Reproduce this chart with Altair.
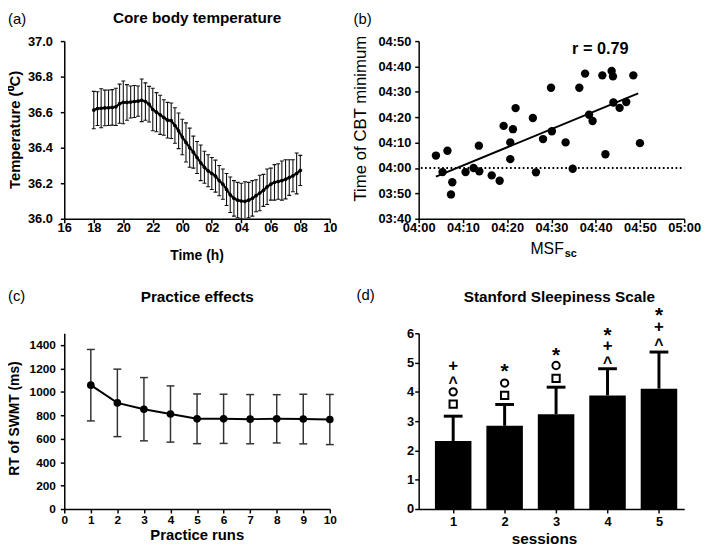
import altair as alt
import pandas as pd

FONT = "Liberation Sans"
W = 269
H_TOP, H_BOT = 180, 178

# ---------------- (a) Core body temperature ----------------
cbt_hours = [18 + 0.25 * i for i in range(57)]
cbt_mean = [36.612, 36.620, 36.622, 36.624, 36.625, 36.627, 36.630, 36.648,
            36.655, 36.655, 36.657, 36.660, 36.662, 36.667, 36.660, 36.645,
            36.615, 36.600, 36.585, 36.570, 36.555, 36.552, 36.525, 36.495,
            36.460, 36.430, 36.400, 36.375, 36.345, 36.315, 36.290, 36.270,
            36.255, 36.240, 36.215, 36.195, 36.165, 36.135, 36.115, 36.105,
            36.100, 36.098, 36.105, 36.115, 36.130, 36.145, 36.160, 36.180,
            36.195, 36.205, 36.210, 36.215, 36.222, 36.232, 36.242, 36.255,
            36.272]
cbt_sd = [0.105, 0.095, 0.110, 0.100, 0.100, 0.100, 0.105, 0.110,
          0.120, 0.100, 0.090, 0.090, 0.085, 0.120, 0.105, 0.100,
          0.120, 0.110, 0.110, 0.100, 0.100, 0.100, 0.100, 0.100,
          0.100, 0.110, 0.110, 0.090, 0.090, 0.100, 0.090, 0.090,
          0.090, 0.090, 0.085, 0.085, 0.090, 0.100, 0.100, 0.100,
          0.100, 0.110, 0.100, 0.100, 0.090, 0.100, 0.090, 0.100,
          0.090, 0.100, 0.100, 0.110, 0.110, 0.100, 0.090, 0.115,
          0.085]
time_ticks = list(range(16, 35, 2))
temp_ticks = [36.0, 36.2, 36.4, 36.6, 36.8, 37.0]

# ---------------- (b) CBT minimum vs MSFsc (minutes after midnight) ----------------
msf_min = [243.9, 245.4, 246.5, 247.6, 247.3, 250.6, 252.4, 253.6, 253.7, 256.5,
           258.3, 259.2, 260.7, 260.7, 261.3, 261.9, 265.8, 266.5, 268.1, 269.9,
           270.1, 273.2, 274.8, 276.3, 277.6, 278.5, 279.3, 281.5, 282.2, 283.6,
           283.9, 284.0, 285.4, 286.9, 288.5, 290.0]
cbtmin_min = [244.9, 238.4, 246.8, 234.4, 229.6, 238.4, 240.0, 248.8, 238.7, 237.1,
              235.0, 256.6, 250.1, 243.5, 255.3, 263.6, 259.7, 238.3, 251.4, 271.6,
              254.5, 250.1, 239.7, 271.6, 277.2, 261.0, 258.5, 276.5, 245.4, 278.2,
              276.1, 265.8, 263.7, 266.0, 276.5, 249.8]
fit_x = [243.9, 289.6]
fit_y = [236.6, 269.4]
ref_x = [240.5, 300]
ref_y = [240, 240]
msf_ticks = list(range(240, 301, 10))
cbtmin_ticks = list(range(220, 291, 10))

# ---------------- (c) Practice effects ----------------
runs = list(range(1, 11))
rt_mean = [1057, 906, 852, 811, 770, 770, 767, 770, 768, 764]
rt_sd = [305, 288, 270, 240, 212, 210, 210, 206, 212, 214]
run_ticks = list(range(0, 11))
rt_ticks = list(range(0, 1401, 200))

# ---------------- (d) Stanford Sleepiness Scale ----------------
sessions = [1, 2, 3, 4, 5]
sss_mean = [2.32, 2.84, 3.24, 3.88, 4.11]
sss_upper = [3.17, 3.57, 4.16, 4.79, 5.36]
sym_session = [1, 1, 1, 1, 2, 2, 2, 3, 3, 3, 4, 4, 4, 5, 5, 5]
sym_kind = ["square", "circle", "caret", "plus",
            "square", "circle", "star",
            "square", "circle", "star",
            "caret", "plus", "star",
            "caret", "plus", "star"]
sym_y = [3.58, 4.00, 4.41, 4.88,
         3.88, 4.30, 4.83,
         4.46, 4.90, 5.38,
         5.08, 5.55, 6.08,
         5.70, 6.22, 6.74]


def label(text, x, y, size, weight="normal", angle=0, align="center", baseline="middle"):
    return alt.Chart(pd.DataFrame({"t": [text]})).mark_text(
        font=FONT, fontSize=size, fontWeight=weight, angle=angle, align=align,
        baseline=baseline, color="black"
    ).encode(text="t:N", x=alt.value(x), y=alt.value(y))


# ===== panel a =====
H = H_TOP
df_a = pd.DataFrame({"hour": cbt_hours, "mean": cbt_mean,
                     "lo": [m - s for m, s in zip(cbt_mean, cbt_sd)],
                     "hi": [m + s for m, s in zip(cbt_mean, cbt_sd)]})
xa = alt.X("hour:Q", scale=alt.Scale(domain=[16, 34], nice=False, zero=False),
           axis=alt.Axis(values=time_ticks, title=None, labelPadding=-1,
                         labelExpr="(datum.value % 24 < 10 ? '0' : '') + (datum.value % 24)"))
ya_axis = alt.Axis(values=temp_ticks, format=".1f", title=None, labelPadding=8)
ya_scale = alt.Scale(domain=[36, 37], nice=False, zero=False)
base_a = alt.Chart(df_a)
pa = alt.layer(
    base_a.mark_rule(color="#111", strokeWidth=1.1, clip=True).encode(
        x=xa, y=alt.Y("lo:Q", scale=ya_scale, axis=ya_axis), y2="hi:Q"),
    base_a.mark_rule(color="#111", strokeWidth=1.1, xOffset=-2, x2Offset=2, clip=True).encode(
        x=xa, x2="hour:Q", y=alt.Y("hi:Q", scale=ya_scale, axis=ya_axis)),
    base_a.mark_rule(color="#111", strokeWidth=1.1, xOffset=-2, x2Offset=2, clip=True).encode(
        x=xa, x2="hour:Q", y=alt.Y("lo:Q", scale=ya_scale, axis=ya_axis)),
    base_a.mark_line(color="black", strokeWidth=2.2).encode(
        x=xa, y=alt.Y("mean:Q", scale=ya_scale, axis=ya_axis)),
    base_a.mark_circle(color="black", size=14, opacity=1).encode(
        x=xa, y=alt.Y("mean:Q", scale=ya_scale, axis=ya_axis)),
    label("(a)", -57, -22, 15, align="left"),
    label("Core body temperature", 134.5, -23, 15.5, weight="bold"),
    label("Temperature (⁰C)", -50, H / 2, 15, weight="bold", angle=270),
    label("Time (h)", 134.5, H + 38, 14, weight="bold"),
).properties(width=W, height=H)

# ===== panel b =====
df_b = pd.DataFrame({"msf": msf_min, "cbtmin": cbtmin_min})
df_fit = pd.DataFrame({"msf": fit_x, "cbtmin": fit_y})
df_ref = pd.DataFrame({"msf": ref_x, "cbtmin": ref_y})
tlabel = "timeFormat(datetime(2000, 0, 1, 0, datum.value), '%H:%M')"
xb = alt.X("msf:Q", scale=alt.Scale(domain=[240, 300], nice=False, zero=False),
           axis=alt.Axis(values=msf_ticks, labelExpr=tlabel, title=None, labelPadding=-1))
yb = alt.Y("cbtmin:Q", scale=alt.Scale(domain=[220, 290], nice=False, zero=False),
           axis=alt.Axis(values=cbtmin_ticks, labelExpr=tlabel, title=None, labelPadding=4))
pb = alt.layer(
    alt.Chart(df_ref).mark_line(color="black", strokeWidth=2, strokeDash=[1.7, 2.6]).encode(x=xb, y=yb),
    alt.Chart(df_fit).mark_line(color="black", strokeWidth=2).encode(x=xb, y=yb),
    alt.Chart(df_b).mark_circle(color="black", size=72, opacity=1).encode(x=xb, y=yb),
    label("(b)", -66, -22, 15, align="left"),
    label("r = 0.79", 184, 8, 16.5, weight="bold"),
    label("Time of CBT minimum", -58, H / 2 - 11.5, 17, angle=270),
    label("MSF", 147, H + 31, 16, align="right"),
    label("sc", 148, H + 35.5, 11, weight="bold", align="left"),
).properties(width=W, height=H)

# ===== panel c =====
H = H_BOT
df_c = pd.DataFrame({"run": runs, "rt": rt_mean,
                     "lo": [m - s for m, s in zip(rt_mean, rt_sd)],
                     "hi": [m + s for m, s in zip(rt_mean, rt_sd)]})
xc = alt.X("run:Q", scale=alt.Scale(domain=[0, 10], nice=False),
           axis=alt.Axis(values=run_ticks, format="d", title=None, labelFontSize=12, labelPadding=2))
yc_scale = alt.Scale(domain=[0, 1500], nice=False)
yc_axis = alt.Axis(values=rt_ticks, format="d", title=None, labelFontSize=12, labelPadding=5)
base_c = alt.Chart(df_c)
pc = alt.layer(
    base_c.mark_rule(color="#333", strokeWidth=1.5).encode(
        x=xc, y=alt.Y("lo:Q", scale=yc_scale, axis=yc_axis), y2="hi:Q"),
    base_c.mark_rule(color="#333", strokeWidth=1.5, xOffset=-4, x2Offset=4).encode(
        x=xc, x2="run:Q", y=alt.Y("hi:Q", scale=yc_scale, axis=yc_axis)),
    base_c.mark_rule(color="#333", strokeWidth=1.5, xOffset=-4, x2Offset=4).encode(
        x=xc, x2="run:Q", y=alt.Y("lo:Q", scale=yc_scale, axis=yc_axis)),
    base_c.mark_line(color="black", strokeWidth=2).encode(
        x=xc, y=alt.Y("rt:Q", scale=yc_scale, axis=yc_axis)),
    base_c.mark_circle(color="black", size=60, opacity=1).encode(
        x=xc, y=alt.Y("rt:Q", scale=yc_scale, axis=yc_axis)),
    label("(c)", -57, -38, 15, align="left"),
    label("Practice effects", 134.7, -37, 15.5, weight="bold"),
    label("RT of SWMT (ms)", -49.5, H / 2 - 2.7, 14, weight="bold", angle=270),
    label("Practice runs", 134.7, H + 26, 15, weight="bold"),
).properties(width=W, height=H)

# ===== panel d =====
df_d = pd.DataFrame({"session": sessions, "mean": sss_mean, "upper": sss_upper})
df_sym = pd.DataFrame({"session": sym_session, "kind": sym_kind, "y": sym_y})
xd = alt.X("session:Q", scale=alt.Scale(domain=[0.425, 5.395], nice=False, zero=False),
           axis=alt.Axis(values=sessions, format="d", title=None, labelPadding=3))
yd_scale = alt.Scale(domain=[0, 6], nice=False)
yd_axis = alt.Axis(values=list(range(0, 7)), format="d", title=None, labelPadding=1)
base_d = alt.Chart(df_d)
sym = alt.Chart(df_sym)


def sym_text(kind, char, size, weight, dy):
    return sym.transform_filter(alt.datum.kind == kind).mark_text(
        text=char, font=FONT, fontSize=size, fontWeight=weight, color="black",
        baseline="middle", dy=dy
    ).encode(x=xd, y=alt.Y("y:Q", scale=yd_scale, axis=yd_axis))


pd_ = alt.layer(
    base_d.mark_bar(color="black", size=37).encode(
        x=xd, y=alt.Y("mean:Q", scale=yd_scale, axis=yd_axis)),
    base_d.mark_rule(color="black", strokeWidth=3).encode(
        x=xd, y=alt.Y("mean:Q", scale=yd_scale, axis=yd_axis), y2="upper:Q"),
    base_d.mark_rule(color="black", strokeWidth=3, xOffset=-9.5, x2Offset=9.5).encode(
        x=xd, x2="session:Q", y=alt.Y("upper:Q", scale=yd_scale, axis=yd_axis)),
    sym.transform_filter(alt.datum.kind == "square").mark_point(
        shape="square", filled=False, color="black", strokeWidth=2, size=55, opacity=1
    ).encode(x=xd, y=alt.Y("y:Q", scale=yd_scale, axis=yd_axis)),
    sym.transform_filter(alt.datum.kind == "circle").mark_point(
        shape="circle", filled=False, color="black", strokeWidth=2, size=55, opacity=1
    ).encode(x=xd, y=alt.Y("y:Q", scale=yd_scale, axis=yd_axis)),
    sym_text("caret", "^", 16, "bold", 3),
    sym_text("plus", "+", 17, "bold", 0),
    sym_text("star", "*", 21, "bold", 5),
    label("(d)", -63, -38.5, 15, align="left"),
    label("Stanford Sleepiness Scale", 142.5, -37, 15.5, weight="bold"),
    label("sessions", 127.5, H + 30, 15.5, weight="bold"),
).properties(width=W, height=H)

chart = alt.concat(
    pa, pb, pc, pd_, columns=2, spacing={"row": 116, "column": 90}, bounds="flush"
).configure_axis(
    domainColor="black", domainWidth=1.5, tickColor="black", tickWidth=1.5, tickSize=4,
    labelFont=FONT, labelFontWeight="bold", labelFontSize=13, labelColor="black",
    labelPadding=0, labelOverlap=False, labelFlush=False, grid=False
).configure_view(stroke=None).properties(padding=0)

chart.save("out.html", embed_options={"renderer": "svg", "actions": False})
